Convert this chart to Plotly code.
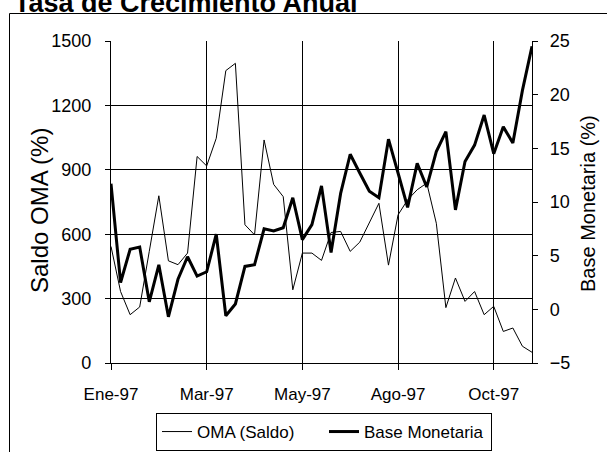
import plotly.graph_objects as go

oma_saldo = [543, 333, 225, 261, 520, 779, 476, 458, 512, 962,
             918, 1047, 1362, 1396, 644, 597, 1039, 832, 775, 341,
             512, 512, 478, 608, 613, 520, 563, 654, 744, 456,
             690, 760, 807, 838, 651, 258, 396, 287, 333, 225,
             264, 147, 163, 78, 50]
base_monetaria = [11.7, 2.5, 5.6, 5.8, 0.7, 4.15, -0.7, 2.8, 4.9, 3.1,
                  3.5, 7.0, -0.6, 0.5, 4.0, 4.15, 7.5, 7.3, 7.6, 10.4,
                  6.5, 7.9, 11.5, 5.3, 10.8, 14.45, 12.7, 11.0, 10.4, 15.85,
                  12.7, 9.5, 13.6, 11.4, 14.7, 16.56, 9.27, 13.77, 15.3, 18.1,
                  14.5, 17.0, 15.5, 20.4, 24.5]
tick_labels = ["Ene-97", "Mar-97", "May-97", "Ago-97", "Oct-97"]
tick_positions = [0, 10, 20, 30, 40]
left_ticks = [0, 300, 600, 900, 1200, 1500]
right_ticks = [-5, 0, 5, 10, 15, 20, 25]

x = list(range(len(oma_saldo)))
FONT = "Liberation Sans, Arial, sans-serif"

fig = go.Figure()
fig.add_trace(go.Scatter(x=x, y=oma_saldo, mode="lines", name="OMA (Saldo)",
                         line=dict(color="black", width=1)))
fig.add_trace(go.Scatter(x=x, y=base_monetaria, mode="lines", name="Base Monetaria",
                         line=dict(color="black", width=3), yaxis="y2"))

W, H = 607, 452
L, R, T, B = 111, 532, 41, 363
def px(v):
    return (v - L) / (R - L)
def py(v):
    return (B - v) / (B - T)

fig.update_layout(
    width=W, height=H,
    margin=dict(l=L, r=W - R, t=T, b=H - B, autoexpand=False),
    paper_bgcolor="white", plot_bgcolor="white",
    font=dict(family=FONT, color="black", size=17),
    showlegend=True,
    legend=dict(orientation="h", xref="container", yref="container",
                x=324 / W, xanchor="center", y=1 - 413 / H, yanchor="top",
                bordercolor="black", borderwidth=1, font=dict(size=17),
                entrywidth=122, entrywidthmode="pixels", tracegroupgap=0),
    xaxis=dict(range=[0, len(x) - 1], tickvals=tick_positions, ticktext=tick_labels,
               showgrid=True, gridcolor="black", gridwidth=1.3,
               showline=True, linecolor="black", linewidth=1.3,
               ticks="outside", ticklen=6, tickcolor="black", tickwidth=1.3,
               ticklabelstandoff=9, automargin=False,
               tickfont=dict(size=17), zeroline=False),
    yaxis=dict(range=[0, 1500], tickvals=left_ticks, showgrid=True, gridcolor="black",
               gridwidth=1.3, showline=True, linecolor="black", linewidth=1.3,
               ticks="outside", ticklen=5, tickcolor="black", tickwidth=1.3,
               zeroline=False, ticklabelstandoff=10, automargin=False,
               tickfont=dict(size=18)),
    yaxis2=dict(range=[-5, 25], tickvals=right_ticks, overlaying="y", side="right",
                showgrid=False, showline=True, linecolor="black", linewidth=1.3,
                ticks="outside", ticklen=5, tickcolor="black", tickwidth=1.3,
                zeroline=False, ticklabelstandoff=8, automargin=False,
                tickfont=dict(size=18)),
)

fig.add_annotation(text="<b>Tasa de Crecimiento Anual</b>", xref="paper", yref="paper",
                   x=px(12), y=py(20), xanchor="left", yanchor="bottom",
                   showarrow=False, font=dict(size=27, family=FONT))
fig.add_annotation(text="Saldo OMA (%)", xref="paper", yref="paper",
                   x=px(39), y=py(211), xanchor="center", yanchor="middle",
                   textangle=-90, showarrow=False, font=dict(size=24, family=FONT))
fig.add_annotation(text="Base Monetaria (%)", xref="paper", yref="paper",
                   x=px(588), y=py(204), xanchor="center", yanchor="middle",
                   textangle=-90, showarrow=False, font=dict(size=20, family=FONT))
fig.add_shape(type="line", xref="paper", yref="paper", x0=px(9.5), x1=px(610),
              y0=py(13.5), y1=py(13.5), line=dict(color="black", width=1))
fig.add_shape(type="line", xref="paper", yref="paper", x0=px(9.5), x1=px(9.5),
              y0=py(13.5), y1=py(460), line=dict(color="black", width=1))

fig.write_html("out.html", config={"displayModeBar": False},
               post_script="document.body.style.margin='0';document.body.style.overflow='hidden';")
